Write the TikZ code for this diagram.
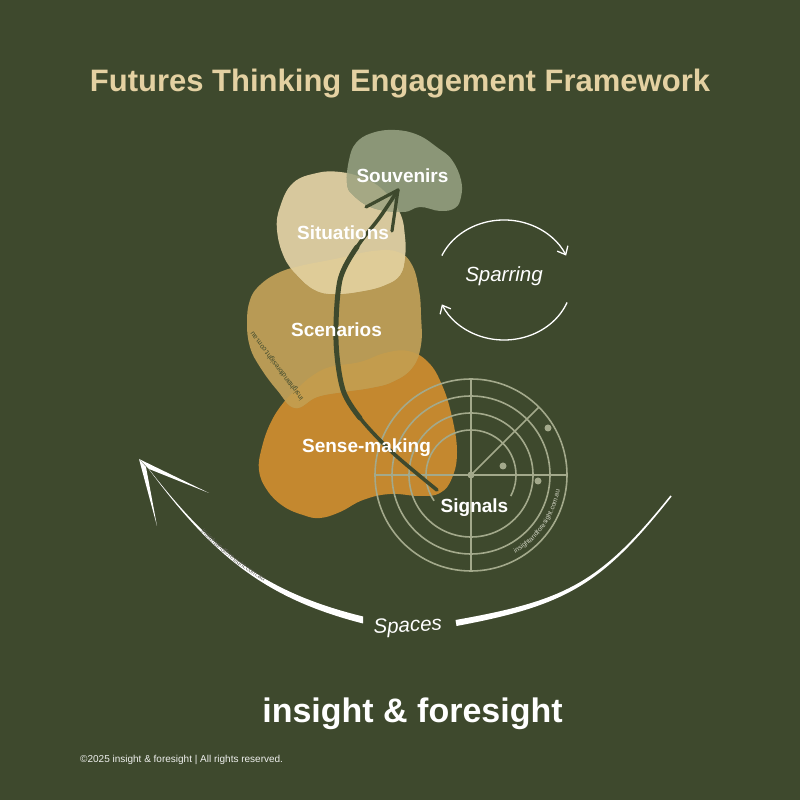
\documentclass[tikz,border=0pt]{standalone}
\usepackage{fontspec}
\setmainfont{Liberation Sans}
\usetikzlibrary{arrows.meta,decorations.text}
\definecolor{bg}{RGB}{62,73,45}
\definecolor{titlec}{RGB}{228,209,162}
\definecolor{souvc}{RGB}{139,150,119}
\definecolor{souvsituc}{RGB}{165,168,132}
\definecolor{situc}{RGB}{215,200,157}
\definecolor{situscenc}{RGB}{223,204,152}
\definecolor{scenc}{RGB}{184,154,85}
\definecolor{scensensec}{RGB}{195,156,77}
\definecolor{sensec}{RGB}{196,136,47}
\definecolor{radarc}{RGB}{163,169,139}
\definecolor{urlc}{RGB}{100,100,92}
\definecolor{urllight}{RGB}{210,213,196}

\newcommand\pSouv{plot[smooth cycle,tension=0.7] coordinates {(347,617) (349,640) (356,657) (372,667) (395,670) (418,665) (438,652) (452,640) (461,620) (461,603) (455,592) (440,589) (420,593) (403,588) (373,592) (353,605)}}
\newcommand\pSitu{plot[smooth cycle,tension=0.7] coordinates {(277,570) (280,593) (293,617) (317,627) (340,628) (363,622) (383,610) (400,587) (405,563) (405,543) (400,525) (385,515) (363,509) (335,506) (315,510) (297,525) (284,543)}}
\newcommand\pScen{plot[smooth cycle,tension=0.7] coordinates {(247,477) (250,500) (260,515) (278,527) (300,534) (335,541) (373,549) (398,548) (412,535) (419,510) (421,485) (421,455) (412,432) (392,418) (370,412) (343,408) (317,403) (295,392) (277,410) (260,433) (250,453)}}
\newcommand\pSense{plot[smooth cycle,tension=0.7] coordinates {(298,412) (284,398) (271,378) (262,353) (259,330) (267,310) (283,294) (303,285) (320,282) (340,288) (363,300) (390,306) (420,304) (440,307) (452,322) (457,348) (452,383) (442,415) (428,438) (408,449) (385,447) (360,438) (330,433) (312,424)}}

\begin{document}
\begin{tikzpicture}[x=1pt,y=1pt,
  lbl/.style={text=white, font=\bfseries\fontsize{19}{19}\selectfont, anchor=base, inner sep=0pt},
  radar/.style={draw=radarc, line width=1.6pt},
  dark/.style={draw=bg, line width=3.6pt, line cap=round},
  sparr/.style={draw=white, line width=1.3pt, -{Straight Barb[length=7pt,width=12pt]}},
  ital/.style={text=white, font=\itshape\fontsize{20.5}{20.5}\selectfont, anchor=base, inner sep=0pt}]
\fill[bg] (0,0) rectangle (800,800);
\useasboundingbox (0,0) rectangle (800,800);

% title
\node[text=titlec, font=\bfseries\fontsize{31}{31}\selectfont, anchor=base, inner sep=0pt] (title) at (400,708) {Futures Thinking Engagement Framework};

% blobs
\fill[sensec] \pSense;
\fill[scenc] \pScen;
\begin{scope}\clip \pScen; \fill[scensensec] \pSense; \end{scope}
\fill[situc] \pSitu;
\begin{scope}\clip \pSitu; \fill[situscenc] \pScen; \end{scope}
\fill[souvc] \pSouv;
\begin{scope}\clip \pSouv; \fill[souvsituc] \pSitu; \end{scope}

% url on scenarios blob
\node[rotate=127, text=bg, font=\fontsize{7}{7}\selectfont, inner sep=0pt] (urlscen) at (277,434) {insightandforesight.com.au};

% radar
\coordinate (rc) at (471,325);
\draw[radar] (rc) circle[radius=96];
\draw[radar] (rc) circle[radius=79];
\draw[radar] (rc) circle[radius=62];
\draw[radar] (rc) ++(-28:45) arc[start angle=-28, end angle=215, radius=45];
\draw[radar] ([xshift=-96pt]rc) -- ([xshift=96pt]rc);
\draw[radar] ([yshift=-96pt]rc) -- ([yshift=96pt]rc);
\draw[radar] (rc) -- ++(45:96);
\fill[radarc] (rc) circle[radius=3.5];
\fill[radarc] (548,372) circle[radius=3.5];
\fill[radarc] (503,334) circle[radius=3.5];
\fill[radarc] (538,319) circle[radius=3.5];
\path[decorate, decoration={text along path, text align=center,
  text={|\fontsize{6.7}{7}\selectfont\color{urllight}|insightandforesight.com.au}}]
  (rc) ++(-62:90) arc[start angle=-62, end angle=-8, radius=90];

% dark arrow from Signals to Souvenirs
\coordinate (sg) at (437,310);
\coordinate (sv) at (398,610);
\coordinate (w1) at (366,593);
\coordinate (w2) at (392,569);
\draw[dark] plot[smooth, tension=0.55] coordinates {(sg) (393,347) (360,382) (343,410) (336,460) (340,520) (357,553) (380,583) (sv)};
\draw[dark, line width=5pt] plot[smooth, tension=0.55] coordinates {(360,382) (343,410) (336,460) (340,520) (357,553)};
\draw[dark, line width=3.2pt] (sv) -- (w1) (sv) -- (w2);

% labels
\node[lbl] (souv) at (402.5,617) {Souvenirs};
\node[lbl] (situ) at (343,560) {Situations};
\node[lbl] (scen) at (336.5,463) {Scenarios};
\node[lbl] (sense) at (366.5,347) {Sense-making};
\node[lbl] (sig) at (474.5,287) {Signals};

% sparring
\node[ital] (spar) at (504,518) {Sparring};
\coordinate (sc) at (504,520);
\draw[sparr] (sc) ++(156:68 and 60) arc[start angle=156, end angle=24, x radius=68, y radius=60];
\draw[sparr] (sc) ++(-22:68 and 60) arc[start angle=-22, end angle=-156, x radius=68, y radius=60];

% spaces arrow
\fill[white] (145,336) .. controls (212,248.7) and (263.7,207.9) .. (363,183.5) -- (363,176.5) .. controls (262.3,202.1) and (210,247.3) .. (145,336) -- cycle;
\fill[white] (455.5,180) .. controls (565.5,199.5) and (600.2,216.6) .. (670.4,304.5) -- (671.6,303.5) .. controls (601.8,215.4) and (566.5,194.5) .. (456.5,174) -- cycle;
\fill[white] (139,341) -- (209,307) -- (149,331) -- cycle;
\fill[white] (139,341) -- (157,274) -- (146,333) -- cycle;
\path[decorate, decoration={text along path, raise=-1pt, text align={left indent=88pt},
  text={|\fontsize{6.7}{7}\selectfont\color{urlc}|insightandforesight.com.au}}]
  (145,336) .. controls (211,248) and (263,205) .. (363,180);
\node[ital, rotate=3] (spaces) at (408,168) {Spaces};

% brand and footer
\node[text=white, font=\bfseries\fontsize{34}{34}\selectfont, anchor=base, inner sep=0pt] (brand) at (412.5,77) {insight \& foresight};
\node[text=white!92!bg, font=\fontsize{10}{10}\selectfont, anchor=base west, inner sep=0pt] (copy) at (80,37) {©2025 insight \& foresight | All rights reserved.};
\end{tikzpicture}
\end{document}
